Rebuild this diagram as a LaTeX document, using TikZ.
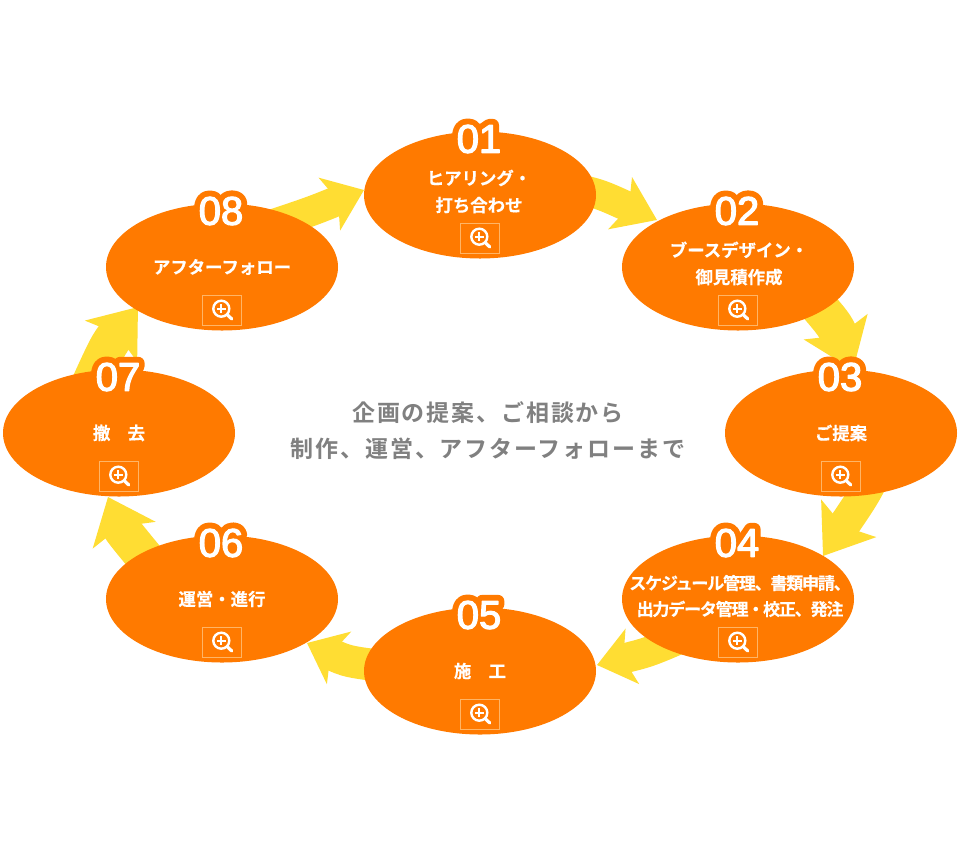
\documentclass[tikz,border=0pt]{standalone}
\usepackage{fontspec}
\usetikzlibrary{shapes.geometric,arrows.meta}
\setmainfont{Liberation Sans}
\newfontfamily\jpfont[FakeBold=0.3]{Noto Sans CJK JP Bold}
\newfontfamily\jptight[LetterSpace=-7,FakeBold=0.3]{Noto Sans CJK JP Bold}
\newfontfamily\jpwide[LetterSpace=8]{Noto Sans CJK JP Bold}
\newfontfamily\numfont[FakeBold=3]{Liberation Sans}
\newfontfamily\halofont[FakeBold=32]{Liberation Sans}
\definecolor{stepor}{HTML}{FF7A00}
\definecolor{flowye}{HTML}{FFDD33}
\definecolor{boxedge}{HTML}{FFB566}
\definecolor{midgray}{HTML}{808080}
\tikzset{
  stepell/.style={ellipse,fill=stepor,minimum width=232pt,minimum height=127pt,inner sep=0pt,outer sep=0pt},
  steplabel/.style={text=white,align=center,inner sep=0pt,font=\jpfont\fontsize{17.4}{27}\selectfont},
  tightlabel/.style={text=white,align=center,inner sep=0pt,font=\jptight\fontsize{17}{26}\selectfont},
  numhalo/.style={text=stepor,inner sep=0pt,font=\halofont\fontsize{40}{40}\selectfont},
  numtext/.style={text=white,inner sep=0pt,font=\numfont\fontsize{40}{40}\selectfont},
  zoombox/.style={draw=boxedge,line width=0.8pt,minimum width=39pt,minimum height=30pt,inner sep=0pt},
  lens/.style={draw=white,line width=2.4pt},
  flow/.style n args={3}{draw=flowye,line width=#1pt,-{Stealth[length=#2pt,width=#3pt,inset=9pt]}},
  midtext/.style={text=midgray,align=center,inner sep=0pt,font=\jpwide\fontsize{23}{36}\selectfont}
}
\newcommand{\stepitem}[4]{% id, x, y, number
  \node[stepell] (e#1) at (#2,#3) {};
  \node[numhalo] (nh#1) at (#2-1,#3-56) {\special{pdf:code 1 j 1 J}#4};
  \node[numtext] (n#1) at (#2-1,#3-56) {\special{pdf:code 1 j 1 J}#4};
  \node[zoombox] (b#1) at (#2-0.3,#3+43.5) {};
  \draw[lens] (#2-0.7,#3+41.7) circle (8pt);
  \draw[white,line width=2pt] (#2-5,#3+41.7) -- (#2+3.6,#3+41.7) (#2-0.7,#3+37.4) -- (#2-0.7,#3+46);
  \draw[white,line width=3.2pt,line cap=round] (#2+5.2,#3+47.6) -- (#2+9.8,#3+52);
}
\begin{document}
\begin{tikzpicture}[x=1pt,y=-1pt]
\fill[white] (0,0) rectangle (960,865);
\useasboundingbox (0,0) rectangle (960,865);
\coordinate (c1) at (480,195); \coordinate (c2) at (738,267); \coordinate (c3) at (841,433); \coordinate (c4) at (738,599);
\coordinate (c5) at (480,671); \coordinate (c6) at (222,599); \coordinate (c7) at (119,433); \coordinate (c8) at (222,267);
\coordinate (t1) at (657,220); \coordinate (t2) at (853,370); \coordinate (t3) at (823,556); \coordinate (t4) at (597,665);
\coordinate (t5) at (307,643); \coordinate (t6) at (108,497); \coordinate (t7) at (138,307); \coordinate (t8) at (364,190);
\draw[flow={30}{40}{56}] (c1) -- (570,187) .. controls (600,194) .. (t1);
\draw[flow={38}{46}{67}] (c2) -- (800,285) .. controls (835,325) .. (t2);
\draw[flow={32}{45}{65}] (c3) -- (885,450) .. controls (868,490) .. (t3);
\draw[flow={30}{36}{56}] (c4) -- (700,630) .. controls (650,652) .. (t4);
\draw[flow={32}{35}{57}] (c5) -- (400,668) .. controls (348,662) .. (t5);
\draw[flow={38}{41}{67}] (c6) -- (155,570) .. controls (122,530) .. (t6);
\draw[flow={38}{43}{65}] (c7) -- (83,400) .. controls (108,345) .. (t7);
\draw[flow={30}{37}{56}] (c8) -- (240,235) .. controls (310,212) .. (t8);
\stepitem{1}{480}{195}{01}
\stepitem{2}{738}{267}{02}
\stepitem{3}{841}{433}{03}
\stepitem{4}{738}{599}{04}
\stepitem{5}{480}{671}{05}
\stepitem{6}{222}{599}{06}
\stepitem{7}{119}{433}{07}
\stepitem{8}{222}{267}{08}
\node[steplabel] (l1) at (479,191.5) {ヒアリング・\\打ち合わせ};
\node[steplabel] (l2) at (739,263.5) {ブースデザイン・\\御見積作成};
\node[steplabel] (l3) at (841,433) {ご提案};
\node[tightlabel] (l4) at (740,596) {スケジュール管理、書類申請、\\出力データ管理・校正、発注};
\node[steplabel] (l5) at (480,671) {施　工};
\node[steplabel] (l6) at (222,599) {運営・進行};
\node[steplabel] (l7) at (119,433) {撤　去};
\node[steplabel] (l8) at (222,267) {アフターフォロー};
\node[midtext] (mid) at (488,431) {企画の提案、ご相談から\\制作、運営、アフターフォローまで};
\end{tikzpicture}
\end{document}
